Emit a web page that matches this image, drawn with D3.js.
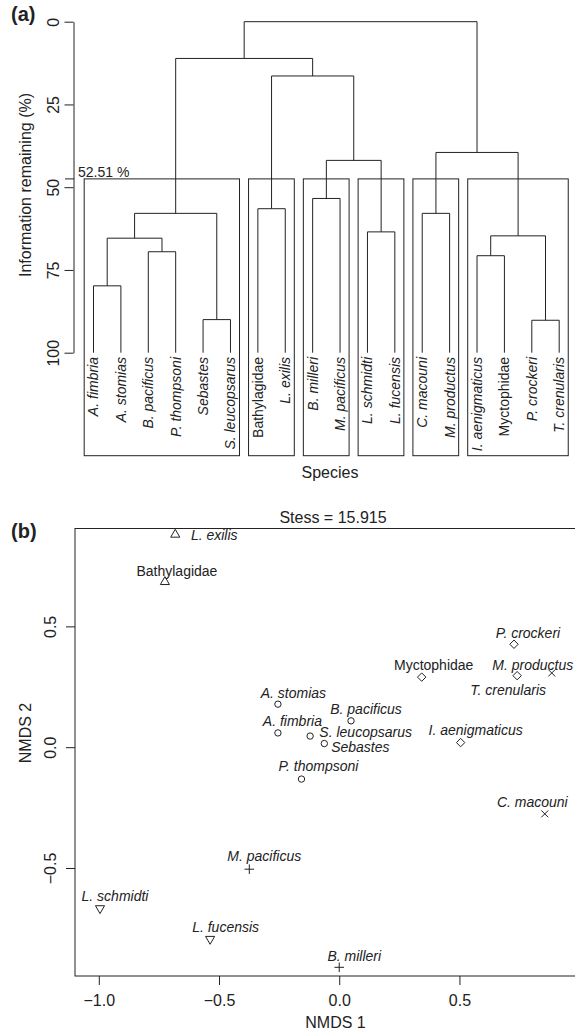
<!DOCTYPE html>
<html>
<head>
<meta charset="utf-8">
<script src="https://cdn.jsdelivr.net/npm/d3@7"></script>
<style>
  body { margin: 0; background: #fff; }
  svg { display: block; font-family: "Liberation Sans", Arial, Helvetica, sans-serif; }
</style>
</head>
<body>
<svg id="chart"></svg>
<script>
// ---- data ----
const species = ["A. fimbria", "A. stomias", "B. pacificus", "P. thompsoni", "Sebastes", "S. leucopsarus",
  "Bathylagidae", "L. exilis", "B. milleri", "M. pacificus", "L. schmidti", "L. fucensis",
  "C. macouni", "M. productus", "I. aenigmaticus", "Myctophidae", "P. crockeri", "T. crenularis"];
const families = ["Bathylagidae", "Myctophidae"];

// hclust-style merges: negative = leaf (1-based), positive = earlier merge
const merges = [[-1, -2], [-3, -4], [-5, -6], [1, 2], [4, 3], [-7, -8], [-9, -10], [-11, -12], [7, 8],
  [6, 9], [5, 10], [-13, -14], [-15, -16], [-17, -18], [13, 14], [12, 15], [11, 16]];
const mergeHeights = [79.8, 69.5, 90.0, 65.4, 57.9, 56.5, 53.4, 63.5, 41.9, 16.4, 11.1, 57.9, 70.7, 90.2, 64.7, 39.5, 0];
const cutPercent = 52.51;
const clusterSizes = [6, 2, 2, 2, 2, 4];
const yTicksA = [0, 25, 50, 75, 100];

const nmds1 = [-0.255, -0.255, 0.049, -0.157, -0.062, -0.121, -0.725, -0.682, 0.000, -0.374, -0.995, -0.537,
  0.855, 0.884, 0.505, 0.343, 0.727, 0.740];
const nmds2 = [0.059, 0.178, 0.109, -0.132, 0.015, 0.046, 0.684, 0.880, -0.911, -0.505, -0.667, -0.794,
  -0.276, 0.307, 0.019, 0.290, 0.426, 0.296];
const stress = 15.915;
const xTicksB = [-1, -0.5, 0, 0.5];
const yTicksB = [-0.5, 0, 0.5];

// ---- layout ----
const W = 575, H = 1030;
const ink = "#222";
// label nudges in px (label centre minus point)
const labelNudge = [[14.5, -11.5], [15.5, -11.5], [15, -12], [17, -12.5], [36, 3.5], [55.5, -3.5],
  [12, -11], [39, 1], [15, -11], [15, -13], [15, -12], [15.5, -11.7],
  [-12.5, -12], [-19, -8], [15, -12.5], [12, -12], [14, -11], [-9, 14]];

const svg = d3.select("#chart").attr("width", W).attr("height", H);

// ================= panel (a) dendrogram =================
const xA = d3.scalePoint().domain(species).range([93.5, 559.2]);
const yA = d3.scaleLinear().domain([0, 100]).range([21.7, 352.7]);
const step = xA.step();
const gA = svg.append("g");

const mergeX = [];
merges.forEach((m, i) => {
  const kids = m.map(k => k < 0
    ? { x: xA(species[-k - 1]), y: yA(100) }
    : { x: mergeX[k - 1], y: yA(mergeHeights[k - 1]) });
  const h = yA(mergeHeights[i]);
  mergeX[i] = (kids[0].x + kids[1].x) / 2;
  gA.append("path")
    .attr("d", `M${kids[0].x},${kids[0].y}V${h}H${kids[1].x}V${kids[1].y}`)
    .attr("fill", "none").attr("stroke", ink).attr("stroke-width", 1);
});

// cluster boxes at the cut level
const cutLevel = 100 - cutPercent;
const boxBottom = 455.7;
let start = 0;
clusterSizes.forEach(n => {
  const left = xA(species[start]) - 0.34 * step;
  const right = xA(species[start + n - 1]) + 0.33 * step;
  gA.append("rect")
    .attr("x", left).attr("y", yA(cutLevel))
    .attr("width", right - left).attr("height", boxBottom - yA(cutLevel))
    .attr("fill", "none").attr("stroke", ink).attr("stroke-width", 1);
  start += n;
});

gA.append("line")
  .attr("x1", 65).attr("x2", 74).attr("y1", yA(cutLevel)).attr("y2", yA(cutLevel))
  .attr("stroke", ink);
gA.append("text")
  .attr("x", 78).attr("y", yA(cutLevel) - 2)
  .attr("font-size", 14).attr("fill", ink)
  .text(`${cutPercent} %`);

// leaf labels
gA.selectAll("text.leaf")
  .data(species)
  .enter().append("text")
  .attr("class", "leaf")
  .attr("transform", d => `translate(${xA(d)},357) rotate(-90)`)
  .attr("text-anchor", "end")
  .attr("dy", "0.35em")
  .attr("font-size", 14)
  .attr("font-style", d => families.includes(d) ? "normal" : "italic")
  .attr("fill", ink)
  .text(d => d);

// y axis
const axA = gA.append("g")
  .attr("transform", "translate(73.5,0)")
  .call(d3.axisLeft(yA).tickValues(yTicksA).tickSize(9).tickSizeOuter(0).tickFormat(d3.format("d")));
axA.attr("font-size", 16).attr("font-family", null);
axA.selectAll("line, path").attr("stroke", ink);
axA.selectAll("text")
  .attr("x", null).attr("dy", null)
  .attr("text-anchor", "middle")
  .attr("fill", ink)
  .attr("transform", "translate(-15,0) rotate(-90)");

gA.append("text")
  .attr("transform", "translate(31,185) rotate(-90)")
  .attr("text-anchor", "middle").attr("font-size", 16).attr("fill", ink)
  .text("Information remaining (%)");
gA.append("text")
  .attr("x", 330).attr("y", 478)
  .attr("text-anchor", "middle").attr("font-size", 16).attr("fill", ink)
  .text("Species");
gA.append("text")
  .attr("x", 11).attr("y", 21)
  .attr("font-size", 20).attr("font-weight", "bold").attr("fill", ink)
  .text("(a)");

// ================= panel (b) NMDS =================
const frame = { left: 75, right: 596, top: 528.5, bottom: 976 };
const xB = d3.scaleLinear().domain([-1.099, 1.068]).range([frame.left, frame.right]);
const yB = d3.scaleLinear().domain([-0.947, 0.905]).range([frame.bottom, frame.top]);
const gB = svg.append("g");

gB.append("rect")
  .attr("x", frame.left).attr("y", frame.top)
  .attr("width", frame.right - frame.left).attr("height", frame.bottom - frame.top)
  .attr("fill", "none").attr("stroke", ink).attr("stroke-width", 1);

const axX = gB.append("g")
  .attr("transform", `translate(0,${frame.bottom})`)
  .call(d3.axisBottom(xB).tickValues(xTicksB).tickSize(9).tickPadding(10).tickFormat(d3.format(".1f")));
axX.attr("font-size", 16).attr("font-family", null);
axX.select(".domain").remove();
axX.selectAll("line").attr("stroke", ink);
axX.selectAll("text").attr("fill", ink);

const axY = gB.append("g")
  .attr("transform", `translate(${frame.left},0)`)
  .call(d3.axisLeft(yB).tickValues(yTicksB).tickSize(9).tickFormat(d3.format(".1f")));
axY.attr("font-size", 16).attr("font-family", null);
axY.select(".domain").remove();
axY.selectAll("line").attr("stroke", ink);
axY.selectAll("text")
  .attr("x", null).attr("dy", null)
  .attr("text-anchor", "middle")
  .attr("fill", ink)
  .attr("transform", "translate(-19,0) rotate(-90)");

// symbols per cluster
const shapes = [
  { type: d3.symbolCircle, size: 32, rot: 0 },
  { type: d3.symbolTriangle, size: 36, rot: 0 },
  { type: d3.symbolPlus, size: 32, rot: 0 },
  { type: d3.symbolTriangle, size: 36, rot: 180 },
  { type: d3.symbolTimes, size: 32, rot: 0 },
  { type: d3.symbolDiamond2, size: 45, rot: 0 }
];
const clusterOf = [];
clusterSizes.forEach((n, c) => { for (let i = 0; i < n; i++) clusterOf.push(c); });

const pts = species.map((name, i) => ({ name, x: nmds1[i], y: nmds2[i], c: clusterOf[i], nudge: labelNudge[i] }));

gB.selectAll("path.pt")
  .data(pts)
  .enter().append("path")
  .attr("class", "pt")
  .attr("transform", d => `translate(${xB(d.x)},${yB(d.y)}) rotate(${shapes[d.c].rot})`)
  .attr("d", d => d3.symbol(shapes[d.c].type, shapes[d.c].size)())
  .attr("fill", "none").attr("stroke", ink).attr("stroke-width", 1);

gB.selectAll("text.lab")
  .data(pts)
  .enter().append("text")
  .attr("class", "lab")
  .attr("x", d => xB(d.x) + d.nudge[0])
  .attr("y", d => yB(d.y) + d.nudge[1])
  .attr("dy", "0.35em")
  .attr("text-anchor", "middle")
  .attr("font-size", 14)
  .attr("font-style", d => families.includes(d.name) ? "normal" : "italic")
  .attr("fill", ink)
  .text(d => d.name);

gB.append("text")
  .attr("x", 333).attr("y", 522.5)
  .attr("text-anchor", "middle").attr("font-size", 16).attr("fill", ink)
  .text(`Stess = ${stress}`);
gB.append("text")
  .attr("x", 335.5).attr("y", 1028)
  .attr("text-anchor", "middle").attr("font-size", 16).attr("fill", ink)
  .text("NMDS 1");
gB.append("text")
  .attr("transform", "translate(31,733) rotate(-90)")
  .attr("text-anchor", "middle").attr("font-size", 16).attr("fill", ink)
  .text("NMDS 2");
gB.append("text")
  .attr("x", 11).attr("y", 538)
  .attr("font-size", 20).attr("font-weight", "bold").attr("fill", ink)
  .text("(b)");
</script>
</body>
</html>
